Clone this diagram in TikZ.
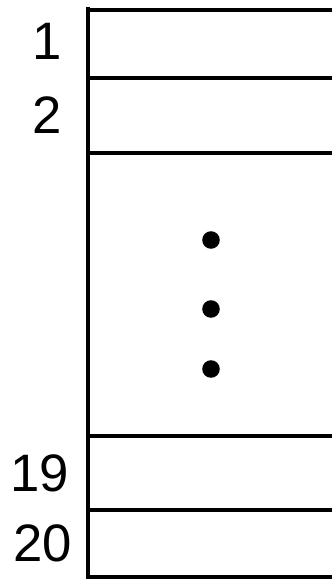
\documentclass[tikz,border=0pt]{standalone}
\usepackage{fontspec}
\setmainfont{Liberation Sans}
\usepackage{tikz}
\usetikzlibrary{positioning}
\definecolor{slInk}{HTML}{000000}
\tikzset{
  rule/.style={line width=2.6pt, draw=slInk},
  slotno/.style={font=\fontsize{30}{30}\selectfont, text=slInk, inner sep=0pt},
  ellip/.style={circle, fill=slInk, inner sep=0pt, minimum size=10pt},
}

\begin{document}
\begin{tikzpicture}[x=0.02cm, y=-0.02cm]
  \useasboundingbox (0,0) rectangle (332,579);
  % row edges
  \coordinate (top)  at (88,7);
  \coordinate (bot)  at (88,579);
  \foreach \y/\n in {10/a, 78/b, 153/c, 436/d, 510/e, 577/f} {
    \coordinate (l\n) at (86,\y);
    \coordinate (r\n) at (332,\y);
    \draw[rule] (l\n) -- (r\n);
  }
  \draw[rule] (top) -- (bot);

  \node[slotno] (n1)  at (47,41)  {1};
  \node[slotno] (n2)  at (47,115) {2};
  \node[slotno] (n19) at (40,473) {19};
  \node[slotno] (n20) at (43,543) {20};

  \node[ellip] (d1) at (211,240) {};
  \node[ellip] (d2) at (211,309) {};
  \node[ellip] (d3) at (211,369) {};
\end{tikzpicture}
\end{document}
